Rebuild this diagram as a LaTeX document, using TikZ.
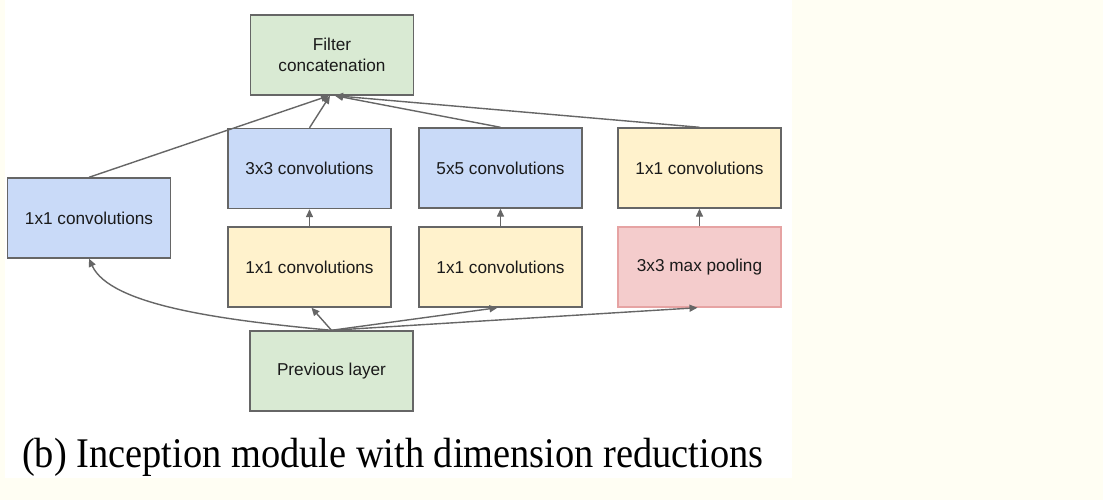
\documentclass[tikz,border=0pt]{standalone}
\usepackage{fontspec}
\setmainfont{Liberation Serif}
\newfontfamily\boxfont{Liberation Sans}
\usetikzlibrary{arrows.meta}
\definecolor{cream}{HTML}{FFFEF3}
\definecolor{bluefill}{HTML}{C9DAF8}
\definecolor{yellowfill}{HTML}{FFF2CC}
\definecolor{greenfill}{HTML}{D9EAD3}
\definecolor{redfill}{HTML}{F4CCCC}
\definecolor{redline}{HTML}{E6A3A3}
\definecolor{boxline}{HTML}{666666}
\definecolor{arrowcol}{HTML}{666666}
\definecolor{textcol}{HTML}{1A1A1A}
\tikzset{
  layer/.style={draw=boxline, line width=1.4pt, minimum width=163pt, minimum height=80pt,
    inner sep=0pt, align=center, text=textcol,
    font=\boxfont\fontsize{17.2}{21}\selectfont},
  bluebox/.style={layer, fill=bluefill},
  yellowbox/.style={layer, fill=yellowfill},
  greenbox/.style={layer, fill=greenfill},
  redbox/.style={layer, fill=redfill, draw=redline},
  flow/.style={draw=arrowcol, line width=1.4pt, -{Triangle[length=8pt,width=7pt]}}
}
\begin{document}
\begin{tikzpicture}[x=1pt,y=-1pt]
\useasboundingbox (0,0) rectangle (1103,500);
\fill[cream] (0,0) rectangle (1103,500);
\fill[white] (5,0) rectangle (792,478);

\node[greenbox] (fc) at (332,55) {Filter\\concatenation};
\node[bluebox] (c1) at (89,218) {1x1 convolutions};
\node[bluebox] (c3) at (309.5,168.5) {3x3 convolutions};
\node[bluebox] (c5) at (500.5,168) {5x5 convolutions};
\node[yellowbox] (p1) at (699.5,168) {1x1 convolutions};
\node[yellowbox] (r3) at (309.5,267) {1x1 convolutions};
\node[yellowbox] (r5) at (500.5,267) {1x1 convolutions};
\node[redbox] (mp) at (699.5,267) {3x3 max pooling};
\node[greenbox] (prev) at (331.5,371) {Previous layer};

\node[anchor=base west, inner sep=0pt, font=\fontsize{38.4}{44}\selectfont] (cap) at (22,467)
  {\scalebox{1}[1.1]{(b) Inception module with dimension reductions}};

% from previous layer
\draw[flow] (prev.north) .. controls (220,320) and (110,305) .. (c1.south);
\draw[flow] (prev.north) -- ([xshift=2pt]r3.south);
\draw[flow] (prev.north) -- ([xshift=-3pt]r5.south);
\draw[flow] (prev.north) -- ([xshift=-2pt]mp.south);

% reductions
\draw[flow] (r3.north) -- (c3.south);
\draw[flow] (r5.north) -- (c5.south);
\draw[flow] (mp.north) -- (p1.south);

% to concatenation
\draw[flow] (c1.north) -- ([xshift=-3pt]fc.south);
\draw[flow] (c3.north) -- ([xshift=-2pt]fc.south);
\draw[flow] (c5.north) -- ([xshift=3pt]fc.south);
\draw[flow] (p1.north) -- ([xshift=3pt]fc.south);
\end{tikzpicture}
\end{document}
